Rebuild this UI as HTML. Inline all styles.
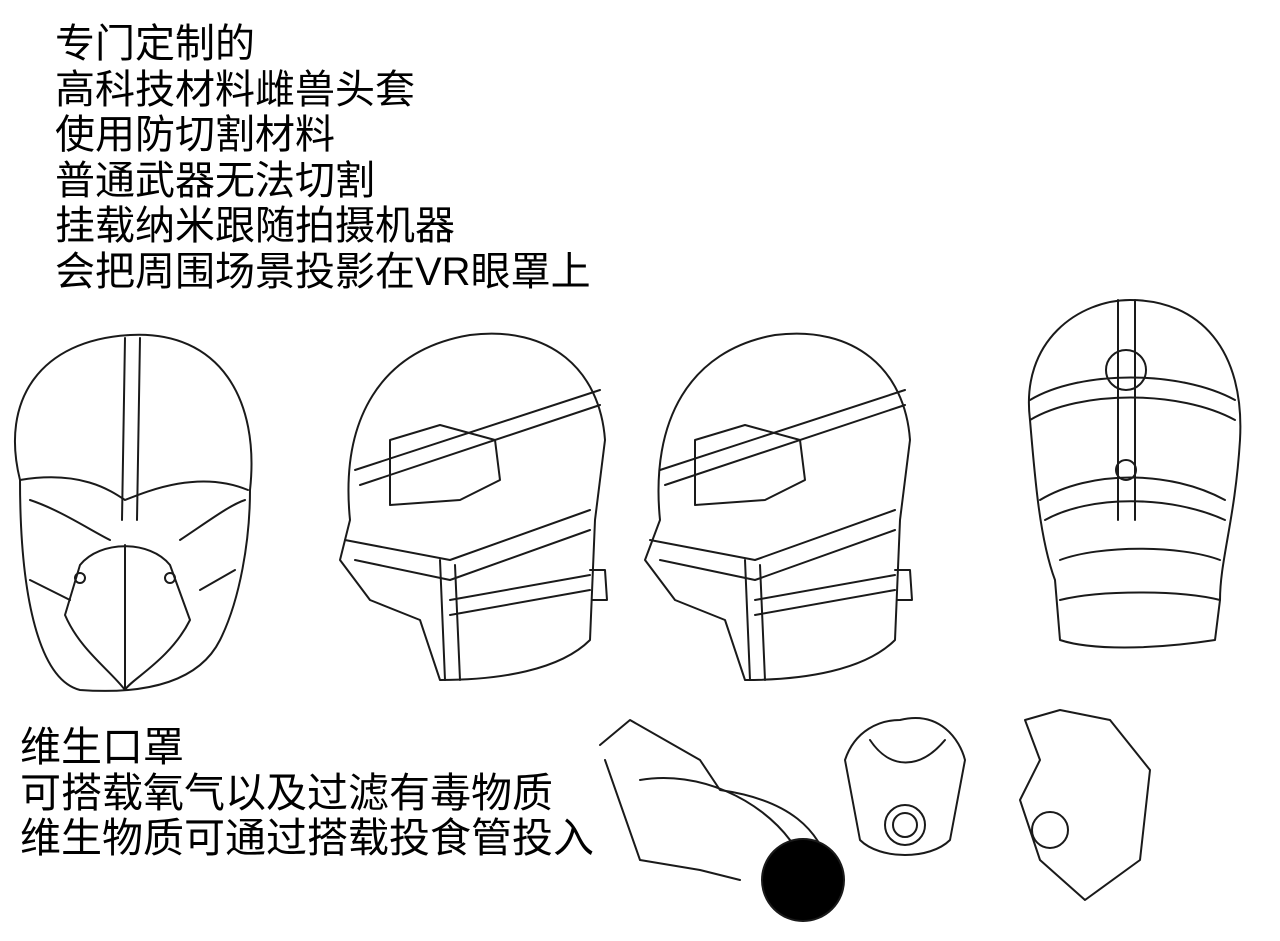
<!DOCTYPE html>
<html><head><meta charset="utf-8">
<style>
html,body{margin:0;padding:0;background:#fff;}
body{width:1280px;height:941px;position:relative;overflow:hidden;}
.t{position:absolute;font-family:"Liberation Sans","Noto Sans CJK SC",sans-serif;color:#000;font-size:40px;line-height:45.5px;white-space:nowrap;}
svg{position:absolute;left:0;top:0;}
</style></head><body>
<svg width="1280" height="941" viewBox="0 0 1280 941" fill="none" stroke="#1a1a1a" stroke-width="2" stroke-linecap="round" stroke-linejoin="round">
<!-- head 1 front -->
<path d="M20,480 C0,400 40,340 130,335 C220,330 260,400 250,490 C250,540 240,600 220,640 C200,680 150,695 80,690 C40,680 20,600 20,480Z"/>
<path d="M125,338 L122,520 M140,338 L137,520"/>
<path d="M20,480 C80,470 110,490 125,500 C150,490 200,470 248,490"/>
<path d="M30,500 C60,510 90,530 110,540 M180,540 C210,520 230,505 245,500"/>
<path d="M80,565 C100,540 150,540 170,565 L190,620 C170,660 130,680 125,690 C110,670 80,650 65,615Z"/>
<path d="M125,545 L125,690 M30,580 L70,600 M200,590 L235,570"/>
<circle cx="80" cy="578" r="5"/><circle cx="170" cy="578" r="5"/>
<!-- head 2 side -->
<path d="M350,520 C340,420 380,350 470,335 C550,325 600,370 605,440 L595,520 L590,640 C560,670 500,680 440,680 L420,620 L370,600 L340,560Z"/>
<path d="M355,470 L600,390 M360,485 L600,405"/>
<path d="M390,440 L440,425 L495,440 L500,480 L460,500 L390,505 Z"/>
<path d="M345,540 L450,560 L590,510 M355,560 L450,580 L590,530"/>
<path d="M440,560 L445,680 M455,565 L460,680 M450,600 L590,575 M450,615 L590,590"/>
<path d="M590,570 L605,570 L607,600 L592,600"/>
<!-- head 3 side -->
<path d="M660,520 C650,420 690,350 775,335 C855,325 905,370 910,440 L900,520 L895,640 C865,670 805,680 745,680 L725,620 L675,600 L645,560Z"/>
<path d="M660,470 L905,390 M665,485 L905,405"/>
<path d="M695,440 L745,425 L800,440 L805,480 L765,500 L695,505 Z"/>
<path d="M650,540 L755,560 L895,510 M660,560 L755,580 L895,530"/>
<path d="M745,560 L750,680 M760,565 L765,680 M755,600 L895,575 M755,615 L895,590"/>
<path d="M895,570 L910,570 L912,600 L897,600"/>
<!-- head 4 back -->
<path d="M1030,420 C1020,340 1080,300 1130,300 C1200,300 1245,350 1240,440 C1235,520 1220,560 1220,600 L1215,640 C1150,650 1090,650 1060,640 L1055,580 C1040,540 1035,480 1030,420Z"/>
<path d="M1118,300 L1118,520 M1135,300 L1135,520"/>
<circle cx="1126" cy="370" r="20"/><circle cx="1126" cy="470" r="10"/>
<path d="M1030,400 C1080,370 1180,370 1235,400 M1030,420 C1080,390 1180,390 1235,420"/>
<path d="M1040,500 C1090,470 1170,470 1225,500 M1045,520 C1090,495 1170,495 1225,520"/>
<path d="M1060,560 C1100,545 1180,545 1220,560 M1060,600 C1100,590 1180,590 1220,600"/>
<!-- bottom sketches -->
<path d="M600,745 L630,720 L700,760 L720,790 C790,800 820,830 830,870 M605,760 L640,860 L700,870 L740,880"/>
<path d="M640,780 C700,770 760,800 790,840"/>
<circle cx="803" cy="880" r="41" fill="#000"/>
<path d="M900,720 C940,710 960,740 965,760 L950,840 C930,860 880,860 860,840 L845,760 C855,730 880,720 900,720Z"/>
<path d="M870,740 C890,770 920,770 945,740"/>
<circle cx="905" cy="825" r="20"/><circle cx="905" cy="825" r="12"/>
<path d="M1025,720 L1040,760 L1020,800 L1040,860 L1085,900 L1140,860 L1150,770 L1110,720 L1060,710Z"/>
<circle cx="1050" cy="830" r="18"/>
</svg>
<div class="t" style="left:55px;top:22px;">专门定制的<br>高科技材料雌兽头套<br>使用防切割材料<br>普通武器无法切割<br>挂载纳米跟随拍摄机器<br>会把周围场景投影在VR眼罩上</div>
<div class="t" style="left:20px;top:725px;font-size:41px;">维生口罩<br>可搭载氧气以及过滤有毒物质<br>维生物质可通过搭载投食管投入</div>
</body></html>
